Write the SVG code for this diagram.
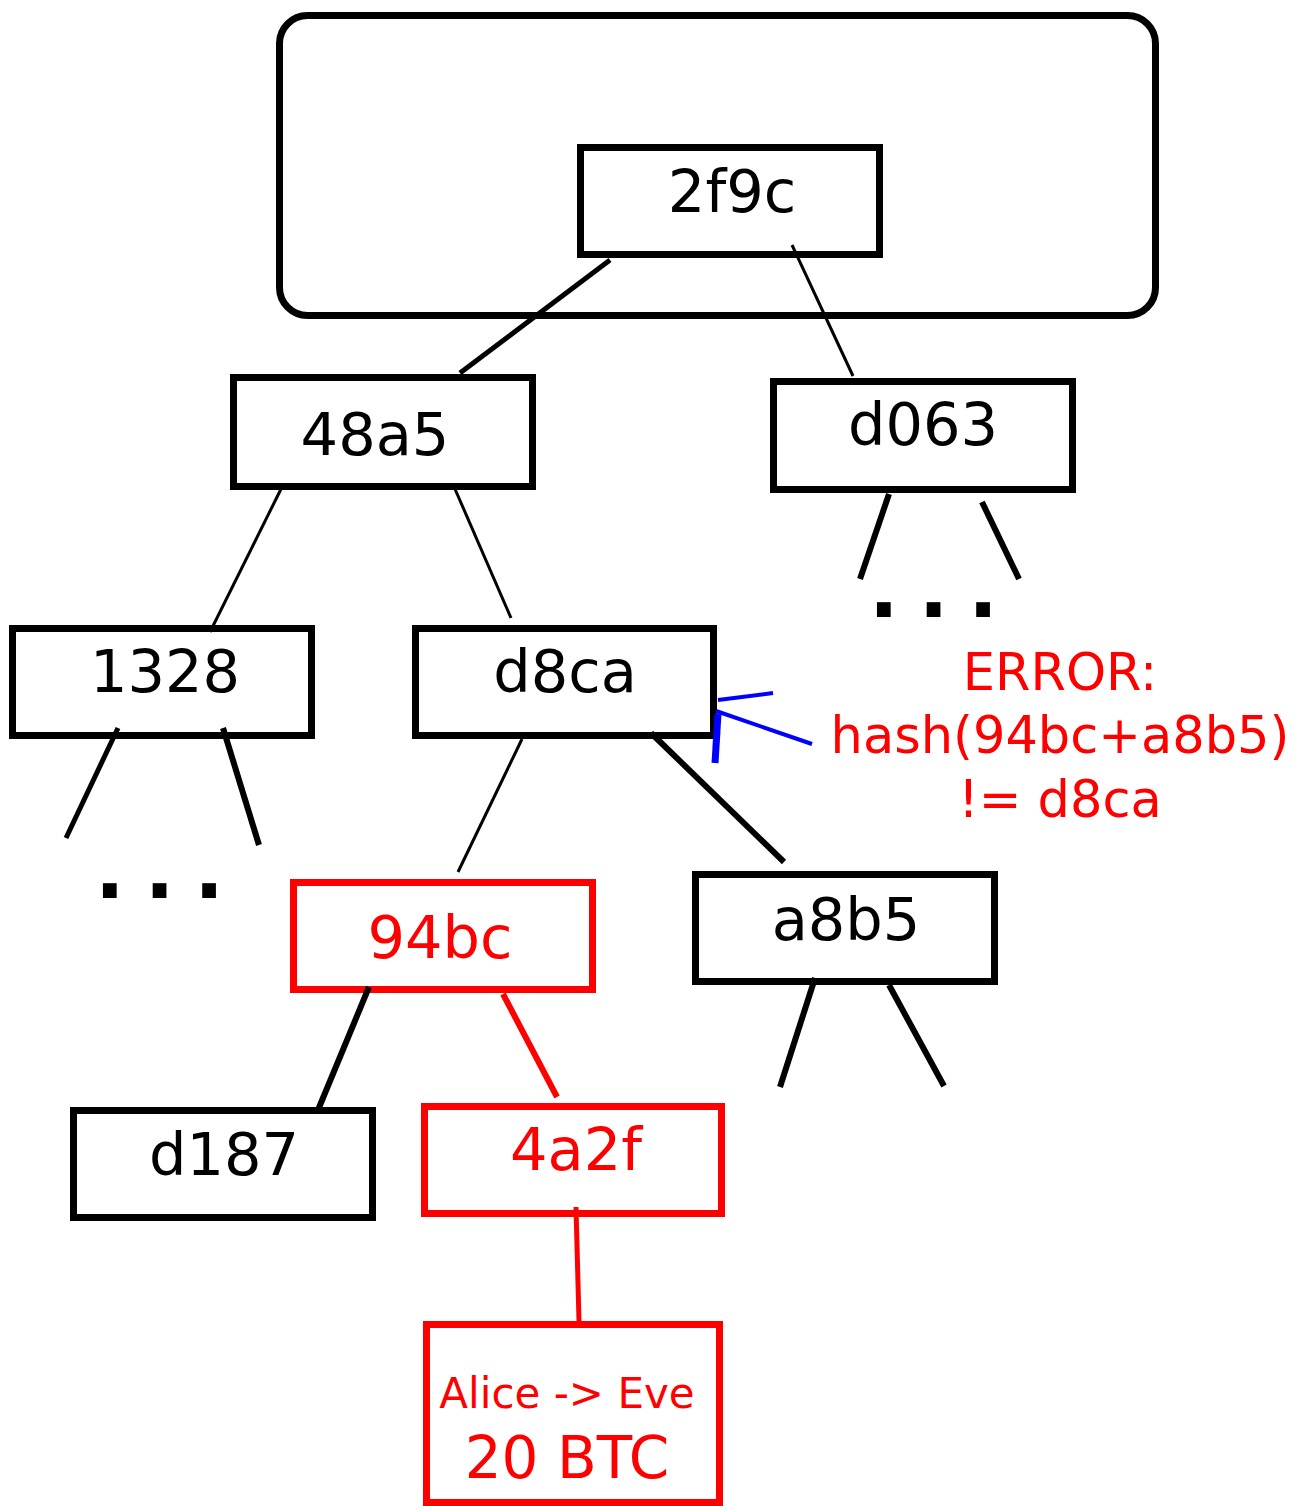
<svg xmlns="http://www.w3.org/2000/svg" width="1298" height="1506" viewBox="0 0 1298 1506">
<style>
.box{fill:none;stroke:#000;stroke-width:7}
.rbox{fill:none;stroke:#ff0000;stroke-width:7}
.lbl{font-family:"DejaVu Sans","Noto Sans",sans-serif;font-size:59px;text-anchor:middle;fill:#000}
.rl{fill:#ff0000}
.dots{font-family:"DejaVu Sans","Noto Sans",sans-serif;font-weight:bold;font-size:78px;letter-spacing:20px;fill:#000}
.err{font-family:"DejaVu Sans","Noto Sans",sans-serif;font-size:51px;text-anchor:middle;fill:#ff0000}
.c{stroke:#000;stroke-linecap:butt;fill:none}
.cr{stroke:#ff0000;fill:none}
.bl{stroke:#0000ff;fill:none}
</style>
<rect width="1298" height="1506" fill="#fff"/>
<g id="root-group">
<rect x="279.5" y="15.5" width="876" height="300" rx="28" class="box"/>
</g>
<g id="n2f9c"><rect x="580.5" y="147.5" width="299" height="107" class="box"/><text x="732" y="212" class="lbl">2f9c</text></g>
<g id="n48a5"><rect x="233.5" y="377.5" width="299" height="109" class="box"/><text x="375" y="455" class="lbl">48a5</text></g>
<g id="nd063"><rect x="773.5" y="381.5" width="299" height="108" class="box"/><text x="923" y="445" class="lbl">d063</text></g>
<g id="n1328"><rect x="12.5" y="628.5" width="299" height="107" class="box"/><text x="165" y="692" class="lbl">1328</text></g>
<g id="nd8ca"><rect x="415.5" y="628.5" width="298" height="107" class="box"/><text x="565" y="692" class="lbl">d8ca</text></g>
<g id="n94bc"><rect x="293.5" y="882.5" width="299" height="107" class="rbox"/><text x="440" y="958" class="lbl rl">94bc</text></g>
<g id="na8b5"><rect x="695.5" y="874.5" width="299" height="107" class="box"/><text x="846" y="940" class="lbl">a8b5</text></g>
<g id="nd187"><rect x="73.5" y="1110.5" width="299" height="107" class="box"/><text x="224" y="1175" class="lbl">d187</text></g>
<g id="n4a2f"><rect x="424.5" y="1106.5" width="297" height="107" class="rbox"/><text x="576" y="1170" class="lbl rl">4a2f</text></g>
<g id="ntx"><rect x="426.5" y="1324.5" width="293" height="178" class="rbox"/>
<text x="567" y="1408" class="lbl rl" style="font-size:42px">Alice -&gt; Eve</text>
<text x="567" y="1478" class="lbl rl" style="font-size:58px">20 BTC</text></g>
<g id="dots1"><text x="95" y="898" class="dots">...</text></g>
<g id="dots2"><text x="869" y="617" class="dots">...</text></g>
<g id="error">
<text x="1060" y="690" class="err">ERROR:</text>
<text x="1060" y="753" class="err">hash(94bc+a8b5)</text>
<text x="1060" y="817" class="err">!= d8ca</text>
</g>
<g id="connectors">
<line x1="610" y1="260" x2="460" y2="373" class="c" stroke-width="5"/>
<line x1="792" y1="245" x2="853" y2="376" class="c" stroke-width="3"/>
<line x1="281" y1="489" x2="210" y2="632" class="c" stroke-width="3"/>
<line x1="455" y1="489" x2="511" y2="618" class="c" stroke-width="3"/>
<line x1="889" y1="494" x2="860" y2="579" class="c" stroke-width="6"/>
<line x1="982" y1="502" x2="1019" y2="579" class="c" stroke-width="6"/>
<line x1="118" y1="728" x2="66" y2="838" class="c" stroke-width="5"/>
<line x1="223" y1="728" x2="259" y2="845" class="c" stroke-width="6"/>
<line x1="522" y1="739" x2="458" y2="872" class="c" stroke-width="3"/>
<line x1="651" y1="733" x2="784" y2="862" class="c" stroke-width="6"/>
<line x1="369" y1="987" x2="318" y2="1110" class="c" stroke-width="6"/>
<line x1="503" y1="994" x2="557" y2="1097" class="cr" stroke-width="6"/>
<line x1="815" y1="978" x2="780" y2="1087" class="c" stroke-width="6"/>
<line x1="889" y1="985" x2="944" y2="1086" class="c" stroke-width="6"/>
<line x1="576" y1="1207" x2="579" y2="1321" class="cr" stroke-width="5"/>
<line x1="716" y1="711" x2="812" y2="744" class="bl" stroke-width="4"/>
<line x1="718" y1="700" x2="773" y2="693" class="bl" stroke-width="4"/>
<line x1="718" y1="714" x2="715" y2="763" class="bl" stroke-width="7"/>
</g>
</svg>
